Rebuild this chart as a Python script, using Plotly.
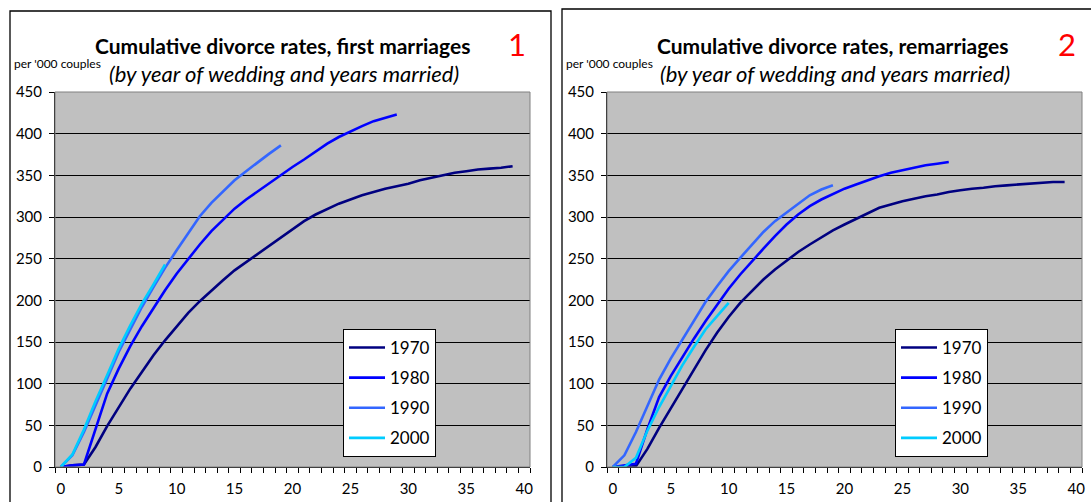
import plotly.graph_objects as go

# ---------------- data ----------------
series_names = ["1970", "1980", "1990", "2000"]
colors = ["#000080", "#0000FF", "#3366FF", "#00CCFF"]
x_ticks = [0, 5, 10, 15, 20, 25, 30, 35, 40]
y_ticks = [0, 50, 100, 150, 200, 250, 300, 350, 400, 450]

first_1970 = [0, 2, 3, 24, 49, 72, 94, 114, 134, 152, 169, 185, 199, 212, 224, 236, 246, 256, 266, 276,
              286, 295, 303, 310, 316, 321, 326, 330, 334, 337, 340, 344, 347, 350, 353, 355, 357, 358, 359, 361]
first_1980 = [0, 2, 3, 47, 88, 118, 145, 169, 191, 212, 232, 250, 267, 283, 297, 310, 321, 331, 341, 350,
              360, 369, 379, 388, 396, 403, 409, 415, 419, 423]
first_1990 = [0, 14, 42, 75, 106, 138, 166, 192, 216, 239, 260, 281, 301, 317, 331, 344, 355, 366, 376, 386]
first_2000 = [0, 15, 45, 79, 110, 142, 170, 196, 219, 243]

re_1970 = [0, 0, 1, 22, 47, 70, 93, 117, 140, 161, 180, 197, 211, 225, 237, 248, 258, 267, 276, 284,
           291, 298, 304, 311, 315, 319, 322, 325, 327, 330, 332, 334, 335, 337, 338, 339, 340, 341, 342, 342]
re_1980 = [0, 2, 4, 46, 84, 109, 132, 154, 175, 195, 214, 231, 247, 262, 277, 291, 303, 313, 321, 328,
           334, 339, 344, 349, 353, 356, 359, 362, 364, 366]
re_1990 = [0, 14, 42, 74, 105, 130, 153, 176, 198, 217, 235, 251, 266, 282, 295, 305, 316, 326, 333, 338]
re_2000 = [0, 0, 11, 44, 72, 97, 122, 144, 165, 181, 197]

first_series = [first_1970, first_1980, first_1990, first_2000]
re_series = [re_1970, re_1980, re_1990, re_2000]

# ---------------- layout helpers ----------------
W, H = 1091, 502
FONT = "Lato, 'Open Sans', sans-serif"


def px(x):
    return x / W


def py(y):
    return 1 - y / H


fig = go.Figure()

for i, name in enumerate(series_names):
    vals = first_series[i]
    fig.add_trace(go.Scatter(x=list(range(len(vals))), y=vals, mode="lines", name=name,
                             line=dict(color=colors[i], width=2.6), xaxis="x", yaxis="y",
                             legend="legend", legendgroup="a" + name))
for i, name in enumerate(series_names):
    vals = re_series[i]
    fig.add_trace(go.Scatter(x=list(range(len(vals))), y=vals, mode="lines", name=name,
                             line=dict(color=colors[i], width=2.6), xaxis="x2", yaxis="y2",
                             legend="legend2", legendgroup="b" + name))

y_dom = [py(467), py(92)]
panels = [(55, 530), (607, 1082)]


def xaxis_cfg(x0, x1, anchor):
    return dict(domain=[px(x0), px(x1)], range=[-0.5, 40.5], anchor=anchor,
                tickmode="array", tickvals=x_ticks, ticktext=[str(v) for v in x_ticks],
                ticks="", showgrid=False, zeroline=False, showline=True, linecolor="black",
                linewidth=1, tickfont=dict(size=15, color="black", family=FONT),
                ticklabelstandoff=8, automargin=False, fixedrange=True,
                minor=dict(tick0=-0.5, dtick=1, ticks="outside", ticklen=5, tickcolor="black",
                           tickwidth=1, showgrid=False))


def yaxis_cfg(anchor):
    return dict(domain=y_dom, range=[0, 450], anchor=anchor, tickmode="array", tickvals=y_ticks,
                ticks="outside", ticklen=5, tickcolor="black", showgrid=True, gridcolor="black",
                gridwidth=1, zeroline=False, showline=True, linecolor="black", linewidth=1,
                ticklabelstandoff=4,
                tickfont=dict(size=15, color="black", family=FONT), automargin=False, fixedrange=True)


legend_common = dict(bgcolor="white", bordercolor="black", borderwidth=1,
                     font=dict(size=17, color="black", family=FONT), xanchor="left", yanchor="top",
                     tracegroupgap=5, itemwidth=36)

fig.update_layout(
    width=W, height=H, margin=dict(l=0, r=0, t=0, b=0),
    paper_bgcolor="white", plot_bgcolor="#C0C0C0",
    xaxis=xaxis_cfg(*panels[0], "y"), yaxis=yaxis_cfg("x"),
    xaxis2=xaxis_cfg(*panels[1], "y2"), yaxis2=yaxis_cfg("x2"),
    legend=dict(x=px(343), y=py(329), **legend_common),
    legend2=dict(x=px(895), y=py(329), **legend_common),
    showlegend=True,
)

shapes = []
# panel frames
shapes.append(dict(type="rect", xref="paper", yref="paper", x0=px(10), x1=px(551), y0=py(520), y1=py(11),
                   line=dict(color="black", width=1.3), fillcolor="rgba(0,0,0,0)", layer="below"))
shapes.append(dict(type="rect", xref="paper", yref="paper", x0=px(562), x1=px(1100), y0=py(520), y1=py(9),
                   line=dict(color="black", width=1.3), fillcolor="rgba(0,0,0,0)", layer="below"))
# plot-area borders
for xr, yr in (("x", "y"), ("x2", "y2")):
    shapes.append(dict(type="rect", xref=xr + " domain", yref=yr + " domain", x0=0, x1=1, y0=0, y1=1,
                       line=dict(color="#808080", width=1), fillcolor="rgba(0,0,0,0)", layer="above"))
fig.update_layout(shapes=shapes)

annotations = []
titles = [("Cumulative divorce rates, first marriages", 282, "1", 517),
          ("Cumulative divorce rates, remarriages", 833, "2", 1067)]
for (t, cx, num, nx), left in zip(titles, (12, 564)):
    annotations.append(dict(text="<b>" + t + "</b>", x=px(cx), y=py(45), xref="paper", yref="paper",
                            showarrow=False, xanchor="center", yanchor="middle",
                            font=dict(size=21, color="black", family=FONT)))
    annotations.append(dict(text="<i>(by year of wedding and years married)</i>", x=px(cx + 2), y=py(74),
                            xref="paper", yref="paper", showarrow=False, xanchor="center", yanchor="middle",
                            font=dict(size=22, color="black", family=FONT)))
    annotations.append(dict(text="per '000 couples", x=px(left), y=py(63), xref="paper", yref="paper",
                            showarrow=False, xanchor="left", yanchor="middle",
                            font=dict(size=12, color="black", family=FONT)))
    annotations.append(dict(text=num, x=px(nx), y=py(44), xref="paper", yref="paper", showarrow=False,
                            xanchor="center", yanchor="middle", font=dict(size=31, color="red", family=FONT)))
fig.update_layout(annotations=annotations)

fig.write_html("out.html", config={"displayModeBar": False},
               post_script="document.body.style.margin='0px';")
